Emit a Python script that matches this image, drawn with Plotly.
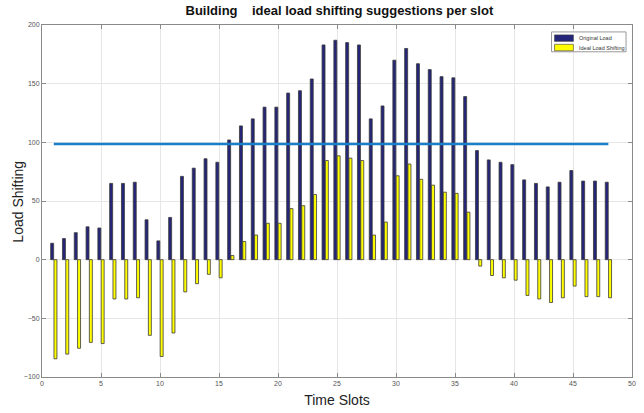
import plotly.graph_objects as go

# Time slots 1..48
slots = list(range(1, 49))

original_load = [
    14, 18, 23, 28, 27, 65, 65, 66, 34, 16,
    36, 71, 78, 86, 83, 102, 114, 120, 130, 130,
    142, 144, 154, 183, 187, 185, 183, 120, 131, 170,
    180, 167, 162, 156, 155, 139, 93, 85, 83, 81,
    68, 65, 62, 66, 76, 67, 67, 66,
]

ideal_shifting = [
    -84.5, -80.5, -75.5, -70.5, -71.5, -33.5, -33.5, -32.5, -64.5, -82.5,
    -62.5, -27.5, -20.5, -12.5, -15.5, 3.5, 15.5, 21, 31, 31,
    43.5, 46, 55.5, 84.5, 88.5, 86.5, 84.5, 21, 32, 71.5,
    81.5, 68.5, 63.5, 57.5, 56.5, 40.5, -5.5, -13.5, -15.5, -17.5,
    -30.5, -33.5, -36.5, -32.5, -22.5, -31.5, -31.5, -32.5,
]

threshold_x = [1, 48]
threshold_y = [98.5, 98.5]

x_ticks = [0, 5, 10, 15, 20, 25, 30, 35, 40, 45, 50]
y_ticks = [-100, -50, 0, 50, 100, 150, 200]

series_names = ["Original Load", "Ideal Load Shifting"]
series_colors = ["#25257a", "#ffff00"]
edge_color = "#3a3a3a"
FONT = "Arial, Liberation Sans, sans-serif"

fig = go.Figure()

fig.add_trace(go.Bar(
    x=slots, y=original_load, name=series_names[0], showlegend=False,
    marker=dict(color=series_colors[0], line=dict(color=edge_color, width=0.8)),
))
fig.add_trace(go.Bar(
    x=slots, y=ideal_shifting, name=series_names[1], showlegend=False,
    marker=dict(color=series_colors[1], line=dict(color=edge_color, width=0.8)),
))
fig.add_trace(go.Scatter(
    x=threshold_x, y=threshold_y, mode="lines", showlegend=False,
    line=dict(color="#1a7fc8", width=2.5),
))

axis_common = dict(
    showline=True, linecolor="#8a8a8a", linewidth=1, mirror="ticks",
    showgrid=True, gridcolor="#e6e6e6", gridwidth=1,
    ticks="inside", ticklen=4, tickcolor="#8a8a8a",
    tickfont=dict(family=FONT, size=7, color="#555555"),
    zeroline=False,
)

# Compact boxed legend in the upper-right corner (paper coordinates)
legend_box = dict(x0=0.8636, x1=0.9899, y0=0.9239, y1=0.9803)
swatch_x = (0.8687, 0.9007)
swatch_y = [(0.9535, 0.9718), (0.9268, 0.9451)]
label_y = [0.9627, 0.9360]
label_x = 0.9060

shapes = [dict(type="rect", xref="paper", yref="paper", **legend_box,
               fillcolor="white", line=dict(color="#9a9a9a", width=1), layer="above")]
annotations = []
for name, color, (y0, y1), ly in zip(series_names, series_colors, swatch_y, label_y):
    shapes.append(dict(type="rect", xref="paper", yref="paper",
                       x0=swatch_x[0], x1=swatch_x[1], y0=y0, y1=y1,
                       fillcolor=color, line=dict(color=edge_color, width=0.6), layer="above"))
    annotations.append(dict(text=name, xref="paper", yref="paper", x=label_x, y=ly,
                            xanchor="left", yanchor="middle", showarrow=False,
                            font=dict(family=FONT, size=5.5, color="#333333")))

# Y axis title placed as a rotated annotation
annotations.append(dict(text="Load Shifting", xref="paper", yref="paper",
                        x=-0.0404, y=0.4986, xanchor="center", yanchor="middle",
                        textangle=-90, showarrow=False,
                        font=dict(family=FONT, size=14, color="#222222")))

fig.update_layout(
    width=644, height=413,
    margin=dict(l=42, r=8, t=25, b=33),
    paper_bgcolor="white", plot_bgcolor="white",
    barmode="group", bargap=0.44, bargroupgap=0.1,
    showlegend=False,
    title=dict(
        text="<b>Building\u00a0\u00a0\u00a0\u00a0ideal load shifting suggestions per slot</b>",
        x=0.527, xanchor="center", y=0.985, yanchor="top",
        font=dict(family=FONT, size=13, color="#111111"),
    ),
    xaxis=dict(
        range=[0, 50], tickvals=x_ticks,
        title=dict(text="Time Slots", standoff=8,
                   font=dict(family=FONT, size=14, color="#222222")),
        **axis_common,
    ),
    yaxis=dict(range=[-100, 200], tickvals=y_ticks, **axis_common),
    shapes=shapes,
    annotations=annotations,
)

fig.write_html("out.html")
